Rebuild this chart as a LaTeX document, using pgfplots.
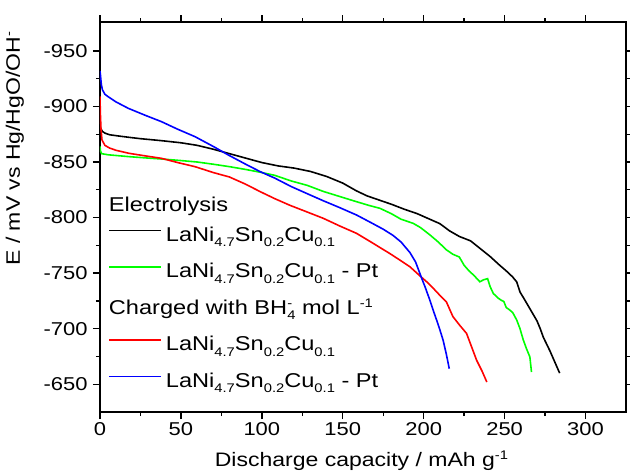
\documentclass[border=0pt]{standalone}
\usepackage{pgfplots}
\pgfplotsset{compat=1.18}
\usepackage{fontspec}
\setmainfont{Liberation Sans}[FakeStretch=1.18]
\newcommand\sub[1]{\raisebox{-5.5pt}{\fontsize{12.5}{13}\selectfont #1}}
\newcommand\supr[1]{\raisebox{7pt}{\fontsize{12.5}{13}\selectfont #1}}
\newcommand\alloy{LaNi\sub{4.7}Sn\sub{0.2}Cu\sub{0.1}}
\begin{document}
\begin{tikzpicture}
\useasboundingbox (-100pt,-60pt) rectangle (530pt,412pt);
\begin{axis}[
  scale only axis, width=526pt, height=390pt,
  xmin=0, xmax=325, ymin=-976, ymax=-625, y dir=reverse,
  xtick={0,50,...,300}, ytick={-950,-900,...,-650},
  minor x tick num=1, minor y tick num=1,
  tick align=outside, tick pos=both, ticklabel pos=left,
  major tick length=7pt, minor tick length=4pt,
  axis line style={line width=1.8pt},
  every tick/.style={line width=1.4pt, black},
  /pgf/number format/assume math mode=true,
  tick label style={font=\fontsize{18.6}{22}\selectfont},
  yticklabel style={xshift=-2pt},
  label style={font=\fontsize{19.5}{22}\selectfont},
  xlabel={Discharge capacity / mAh g\supr{-1}},
  ylabel={E / mV vs Hg/HgO/OH\supr{-}},
  xlabel style={at={(axis description cs:0.497,-0.141)}, anchor=base},
  ylabel style={at={(axis description cs:-0.162,0.675)}, anchor=center},
  legend style={draw=none, fill=none, inner sep=0pt, at={(axis description cs:0.0152,0.599)}, anchor=north west,
    font=\fontsize{20}{22}\selectfont, row sep=5.5pt, column sep=4pt,
    nodes={inner xsep=0pt, inner ysep=0pt, text height=26pt, text depth=5pt}},
  legend cell align=left,
  legend image code/.code={\draw[#1, line width=1.7pt] (0pt,0pt) -- (52pt,0pt);},
  every axis plot/.append style={line width=1.6pt},
]
\addlegendimage{empty legend}
\addlegendentry{\hspace*{-57pt}\raisebox{-7pt}{Electrolysis}}
\addplot[black, mark=none] coordinates {
(0,-883) (0.5,-880) (1.5,-877.5) (3,-876) (6,-874.5) (12,-873.3) (18,-872.2) (25,-871)
(38,-869.2) (50,-867.3) (60,-865) (70,-861.5) (80,-857.5) (90,-853.5) (100,-849.5)
(110,-846.5) (120,-844.5) (130,-841.5) (140,-837) (150,-831) (158.5,-824) (165,-819.5)
(173,-815.5) (180,-812) (188,-807.5) (196,-803.5) (203,-799) (210,-794.5) (216,-788)
(222,-783) (229,-779) (235,-772) (241,-765) (247,-757) (251,-752) (255,-746.5)
(257.5,-742) (259.5,-733) (262,-727) (266,-717) (270,-707) (272,-700) (274,-692)
(276,-686) (278,-680) (281,-670) (284,-660)
};
\addlegendentry{\alloy}
\addplot[green, mark=none] coordinates {
(0,-864) (0.3,-860) (1,-857.5) (5,-856.5) (18,-854.8) (30,-853.5) (40,-852.5) (50,-851.3)
(60,-850) (70,-848) (80,-845.8) (90,-843.3) (100,-840.5) (108,-838) (118,-833) (128,-829)
(138,-823.5) (148,-819) (158,-814.5) (166,-811) (173,-808.3) (180,-803.5) (186,-798.5)
(193.5,-794.8) (198,-791) (204,-784.2) (209,-778) (214,-771) (218,-767) (222,-764.5)
(225,-757) (228,-752) (231,-748) (234.7,-742.2) (237,-744) (239.5,-745) (241,-738)
(243,-731.7) (246,-727.5) (248,-725.5) (249.5,-724.5) (251,-719) (253,-717) (255,-714.5)
(257.5,-707.7) (259.5,-700) (261.5,-690) (263.5,-682) (265.6,-674.6) (266.6,-661)
};
\addlegendentry{\alloy\ - Pt}
\addlegendimage{empty legend}
\addlegendentry{\hspace*{-57pt}Charged with BH\makebox[0pt][l]{\supr{-}}\sub{4} mol L\supr{-1}}
\addplot[red, mark=none] coordinates {
(0,-909) (0.2,-895) (0.6,-880) (1.2,-870) (3,-865) (6,-862.5) (10,-860.5) (18,-857.8)
(28,-855.5) (38,-853.3) (48,-849.5) (58.7,-845.8) (70,-840.5) (80,-836.5) (90,-830)
(99,-823.3) (108,-817) (117.4,-811) (128,-805) (138,-799.3) (148,-792.5) (158.5,-785.8)
(168,-777.5) (173,-773) (179,-767.7) (185,-762) (191.5,-755.7) (197.7,-747.5) (202,-742)
(206,-736.2) (210,-730) (214,-724.2) (218,-711) (222,-703.5) (226.5,-695.7) (229.5,-684)
(232.7,-671.6) (236,-662) (239,-652)
};
\addlegendentry{\alloy}
\addplot[blue, mark=none] coordinates {
(0,-932) (0.3,-928) (0.8,-920) (1.5,-915) (3,-911) (5,-908.8) (10,-904) (17.5,-898.3)
(28,-892) (38,-886.3) (48,-879.5) (58.7,-872.8) (70,-864) (79.3,-856.3) (90,-848)
(99,-841.3) (108,-835.5) (118,-828) (128,-821.5) (138,-815.1) (148,-809) (158.5,-802.3)
(168,-795) (175,-789.5) (181,-784) (186,-778) (191.5,-768.5) (195,-760) (198.6,-746)
(201,-737) (203.8,-725.7) (206,-716) (208,-707.7) (210,-699) (212,-689.6) (214,-677)
(215.8,-664)
};
\addlegendentry{\alloy\ - Pt}
\end{axis}
\end{tikzpicture}
\end{document}
